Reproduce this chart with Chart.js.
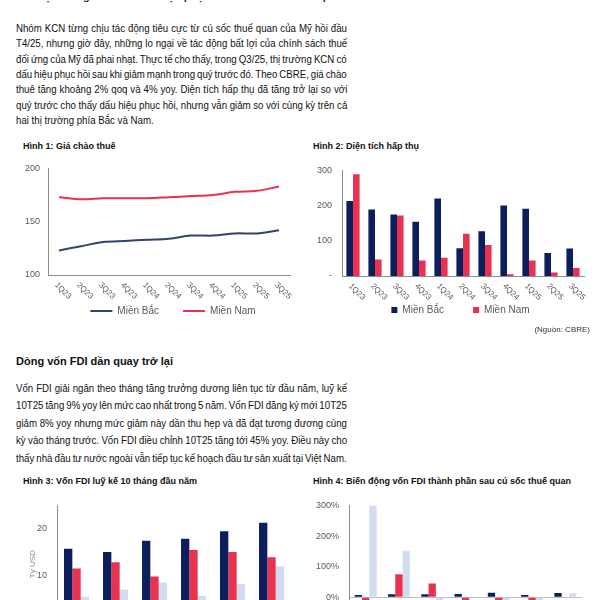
<!DOCTYPE html>
<html lang="vi">
<head>
<meta charset="utf-8">
<script src="https://cdn.jsdelivr.net/npm/chart.js@4.4.1/dist/chart.umd.min.js"></script>
<style>
  html, body { margin: 0; padding: 0; background: #fff; }
  body { width: 600px; height: 600px; overflow: hidden; position: relative; font-family: "Liberation Sans", Arial, sans-serif; color: #111; }
  .abs { position: absolute; }
  .ln { position: absolute; left: 16px; width: 400px; font-size: 11px; line-height: 14px; white-space: nowrap; }
  .ln span { display: inline-block; transform-origin: 0 0; }
  .ttl { position: absolute; font-size: 9px; font-weight: bold; color: #111; white-space: nowrap; }
  canvas { position: absolute; }
</style>
</head>
<body>
<div class="abs" style="left:33px; top:-10px; font-size:11px; font-weight:bold; color:#333; white-space:nowrap;">Thị trường KCN có dấu hiệu phục hồi sau cú sốc thuế quan</div>

<div id="p1"></div>

<div class="ttl" style="left:23px; top:141px;">Hình 1: Giá chào thuê</div>
<div class="ttl" style="left:313px; top:141px;">Hình 2: Diện tích hấp thụ</div>
<canvas id="c1" width="306" height="171" style="left:20px; top:155px;"></canvas>
<canvas id="c2" width="311" height="170" style="left:305px; top:155px;"></canvas>
<div class="abs" style="right:10px; top:325px; font-size:8px; color:#333;">(Nguồn: CBRE)</div>

<div class="abs" style="left:16px; top:355px; font-size:11px; font-weight:bold; white-space:nowrap;">Dòng vốn FDI dần quay trở lại</div>
<div id="p2"></div>

<div class="ttl" style="left:23px; top:476px;">Hình 3: Vốn FDI luỹ kế 10 tháng đầu năm</div>
<div class="ttl" style="left:313px; top:476px;">Hình 4: Biến động vốn FDI thành phần sau cú sốc thuế quan</div>
<canvas id="c3" width="275" height="176" style="left:22px; top:490px;"></canvas>
<canvas id="c4" width="290" height="181" style="left:305px; top:490px;"></canvas>

<script>
// văn bản
const para1 = [
  'Nhóm KCN từng chịu tác động tiêu cực từ cú sốc thuế quan của Mỹ hồi đầu',
  'T4/25, nhưng giờ đây, những lo ngại về tác động bất lợi của chính sách thuế',
  'đối ứng của Mỹ đã phai nhạt. Thực tế cho thấy, trong Q3/25, thị trường KCN có',
  'dấu hiệu phục hồi sau khi giảm mạnh trong quý trước đó. Theo CBRE, giá chào',
  'thuê tăng khoảng 2% qoq và 4% yoy. Diện tích hấp thụ đã tăng trở lại so với',
  'quý trước cho thấy dấu hiệu phục hồi, nhưng vẫn giảm so với cùng kỳ trên cả',
  'hai thị trường phía Bắc và Nam.'
];
const para2 = [
  'Vốn FDI giải ngân theo tháng tăng trưởng dương liên tục từ đầu năm, luỹ kế',
  '10T25 tăng 9% yoy lên mức cao nhất trong 5 năm. Vốn FDI đăng ký mới 10T25',
  'giảm 8% yoy nhưng mức giảm này dần thu hẹp và đã đạt tương đương cùng',
  'kỳ vào tháng trước. Vốn FDI điều chỉnh 10T25 tăng tới 45% yoy. Điều này cho',
  'thấy nhà đầu tư nước ngoài vẫn tiếp tục kế hoạch đầu tư sản xuất tại Việt Nam.'
];

// dữ liệu biểu đồ
const quarters = ['1Q23', '2Q23', '3Q23', '4Q23', '1Q24', '2Q24', '3Q24', '4Q24', '1Q25', '2Q25', '3Q25'];
const rentNorth = [123, 127, 131, 132, 133, 134, 137, 137, 139, 139, 142];
const rentSouth = [173, 171, 172, 172, 172, 173, 174, 175, 178, 179, 183];
const absorbNorth = [213, 189, 175, 154, 220, 79, 127, 200, 191, 65, 78];
const absorbSouth = [289, 47, 172, 44, 52, 120, 88, 5, 44, 10, 23];

const fdiYears = ['10T20', '10T21', '10T22', '10T23', '10T24', '10T25'];
const fdiDisbursed = [15.8, 15.1, 17.5, 17.9, 19.5, 21.3];
const fdiNew = [11.6, 12.9, 9.9, 15.5, 15.1, 14.0];
const fdiAdjusted = [5.6, 7.1, 8.6, 5.8, 8.3, 12.0];

const months = ['T4/25', 'T5/25', 'T6/25', 'T7/25', 'T8/25', 'T9/25', 'T10/25'];
const chgDisbursed = [8, 10, 10, 11, 15, 8, 14];
const chgNew = [-20, 75, 45, -25, -25, -20, 0];
const chgAdjusted = [300, 152, -20, 0, -10, -15, 13];

const NAVY = '#0c1e5b';
const RED = '#e8324f';
const LIGHT = '#d3dcef';
const LINE_NAVY = '#34426f';
const GREY = '#595959';
const AXIS = '#8c8c8c';
const FONT = '"Liberation Sans", Arial, sans-serif';

// căn đều từng dòng như bản gốc (chữ hơi hẹp)
const TEXT_W = 331, SQUEEZE = 0.88;
function writeLines(id, lines, firstCenter, step, justifyLast) {
  const box = document.getElementById(id);
  lines.forEach((txt, i) => {
    const d = document.createElement('div');
    d.className = 'ln';
    d.style.top = (firstCenter + step * i - 7) + 'px';
    const s = document.createElement('span');
    s.textContent = txt;
    s.style.transform = 'scaleX(' + SQUEEZE + ')';
    d.appendChild(s);
    box.appendChild(d);
    if (i < lines.length - 1 || justifyLast) {
      const w = s.offsetWidth;
      const n = (txt.match(/ /g) || []).length;
      if (n) s.style.wordSpacing = ((TEXT_W / SQUEEZE - w) / n) + 'px';
    }
  });
}
writeLines('p1', para1, 28, 15.3, false);
writeLines('p2', para2, 388, 17.4, true);

Chart.defaults.font.family = FONT;
Chart.defaults.color = GREY;
Chart.defaults.animation = false;

// nhãn trục x nghiêng xuống
const slantTicks = {
  id: 'slantTicks',
  afterDraw(chart) {
    const sx = chart.scales.x, ctx = chart.ctx;
    ctx.save();
    ctx.font = '8px ' + FONT;
    ctx.fillStyle = GREY;
    ctx.textAlign = 'left';
    ctx.textBaseline = 'middle';
    sx.ticks.forEach((t, i) => {
      ctx.save();
      ctx.translate(sx.getPixelForTick(i) - 3, sx.top + 9);
      ctx.rotate(Math.PI / 4);
      ctx.fillText(sx.getLabelForValue(t.value), 0, 0);
      ctx.restore();
    });
    ctx.restore();
  }
};

// trục phụ bên phải chỉ để giữ chỗ (chú giải nằm lệch phải như bản gốc)
const spacer = w => ({ position: 'right', grid: { display: false, drawTicks: false }, border: { display: false }, ticks: { display: false }, afterFit: s => { s.width = w; } });

// Hình 1
new Chart(document.getElementById('c1'), {
  type: 'line',
  data: {
    labels: quarters,
    datasets: [
      { label: 'Miền Bắc', data: rentNorth, borderColor: LINE_NAVY, backgroundColor: LINE_NAVY, borderWidth: 2, pointRadius: 0, pointStyle: 'line', tension: 0.35 },
      { label: 'Miền Nam', data: rentSouth, borderColor: RED, backgroundColor: RED, borderWidth: 2, pointRadius: 0, pointStyle: 'line', tension: 0.35 }
    ]
  },
  options: {
    responsive: false,
    layout: { padding: { top: 8, right: 0 } },
    scales: {
      x: { offset: true, grid: { display: false }, border: { color: AXIS }, ticks: { display: false }, afterFit: s => { s.height = 7; } },
      y: { min: 100, max: 200, ticks: { stepSize: 50, padding: 8, font: { size: 9 } }, grid: { display: false, drawTicks: false }, border: { color: AXIS }, afterFit: s => { s.width = 28; } },
      pad: spacer(36)
    },
    plugins: {
      legend: { position: 'bottom', labels: { usePointStyle: true, pointStyleWidth: 22, boxWidth: 22, padding: 24, font: { size: 10 }, color: GREY } },
      tooltip: { enabled: false }
    }
  },
  plugins: [slantTicks]
});

// Hình 2
new Chart(document.getElementById('c2'), {
  type: 'bar',
  data: {
    labels: quarters,
    datasets: [
      { label: 'Miền Bắc', data: absorbNorth, backgroundColor: NAVY, categoryPercentage: 0.6, barPercentage: 1, yAxisID: 'y' },
      { label: 'Miền Nam', data: absorbSouth, backgroundColor: RED, categoryPercentage: 0.6, barPercentage: 1, yAxisID: 'y' }
    ]
  },
  options: {
    responsive: false,
    layout: { padding: { top: 7, right: 0 } },
    scales: {
      x: { grid: { display: false }, border: { color: AXIS }, ticks: { display: false }, afterFit: s => { s.height = 0; } },
      y: { min: 0, max: 300, ticks: { stepSize: 100, padding: 10, font: { size: 9 }, callback: v => v === 0 ? '-' : v }, grid: { display: false, drawTicks: false }, border: { color: AXIS }, afterFit: s => { s.width = 37; } },
      pad: spacer(32)
    },
    plugins: {
      legend: { position: 'bottom', labels: { boxWidth: 6, boxHeight: 6, padding: 29, font: { size: 10 }, color: GREY } },
      tooltip: { enabled: false }
    }
  },
  plugins: [slantTicks]
});

// Hình 3
new Chart(document.getElementById('c3'), {
  type: 'bar',
  data: {
    labels: fdiYears,
    datasets: [
      { label: 'Giải ngân', data: fdiDisbursed, backgroundColor: NAVY, categoryPercentage: 0.64, barPercentage: 1 },
      { label: 'Đăng ký mới', data: fdiNew, backgroundColor: RED, categoryPercentage: 0.64, barPercentage: 1 },
      { label: 'Điều chỉnh', data: fdiAdjusted, backgroundColor: LIGHT, categoryPercentage: 0.64, barPercentage: 1 }
    ]
  },
  options: {
    responsive: false,
    layout: { padding: { top: 8, right: 6 } },
    scales: {
      x: { grid: { display: false }, border: { color: AXIS }, ticks: { font: { size: 8 } }, afterFit: s => { s.height = 16; } },
      y: {
        min: 0, max: 25,
        ticks: { stepSize: 10, padding: 10, font: { size: 9 } },
        afterBuildTicks: s => { s.ticks = s.ticks.filter(t => t.value % 10 === 0); },
        title: { display: true, text: 'Tỷ USD', font: { size: 8 }, color: '#8a8a8a', padding: { top: 6, bottom: 0 } },
        grid: { display: false, drawTicks: false }, border: { color: AXIS },
        afterFit: s => { s.width = 35; }
      }
    },
    plugins: {
      legend: { position: 'bottom', labels: { boxWidth: 6, boxHeight: 6, padding: 8, font: { size: 9 }, color: GREY } },
      tooltip: { enabled: false }
    }
  }
});

// Hình 4
new Chart(document.getElementById('c4'), {
  type: 'bar',
  data: {
    labels: months,
    datasets: [
      { label: 'Giải ngân', data: chgDisbursed, backgroundColor: NAVY, categoryPercentage: 0.66, barPercentage: 1 },
      { label: 'Đăng ký mới', data: chgNew, backgroundColor: RED, categoryPercentage: 0.66, barPercentage: 1 },
      { label: 'Điều chỉnh', data: chgAdjusted, backgroundColor: LIGHT, categoryPercentage: 0.66, barPercentage: 1 }
    ]
  },
  options: {
    responsive: false,
    layout: { padding: { top: 10, right: 13 } },
    scales: {
      x: { grid: { display: false }, border: { display: false }, ticks: { font: { size: 8 } }, afterFit: s => { s.height = 16; } },
      y: {
        min: -100, max: 300,
        ticks: { stepSize: 100, padding: 10, font: { size: 9 }, callback: v => v + '%' },
        grid: { drawTicks: false, color: c => c.tick && c.tick.value === 0 ? '#bfbfbf' : 'rgba(0,0,0,0)' },
        border: { color: AXIS },
        afterFit: s => { s.width = 44; }
      }
    },
    plugins: {
      legend: { position: 'bottom', labels: { boxWidth: 6, boxHeight: 6, padding: 8, font: { size: 9 }, color: GREY } },
      tooltip: { enabled: false }
    }
  }
});
</script>
</body>
</html>
